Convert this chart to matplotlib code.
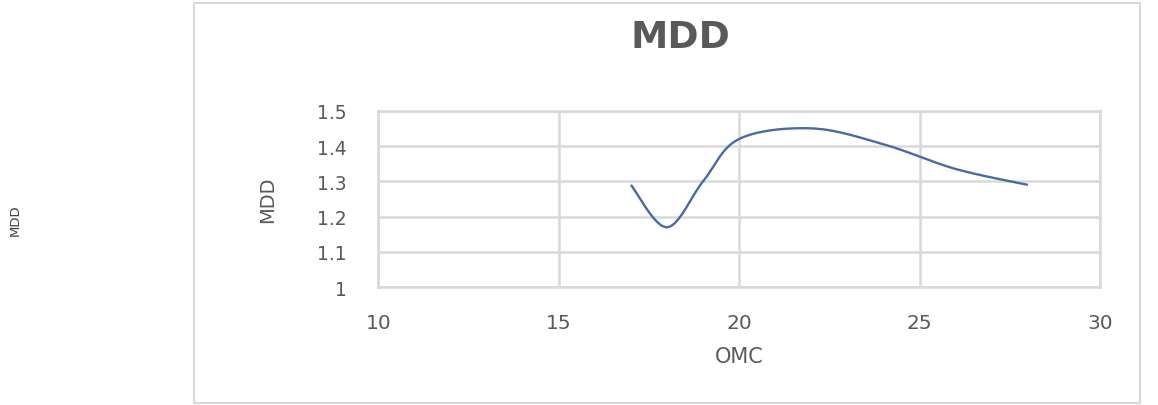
import numpy as np
import matplotlib
matplotlib.use("Agg")
import matplotlib.pyplot as plt
from matplotlib.patches import Rectangle

# Data
omc = [17, 18, 19, 20, 22, 24, 26, 28]
mdd = [1.29, 1.17, 1.30, 1.42, 1.45, 1.405, 1.335, 1.29]
x_ticks = [10, 15, 20, 25, 30]
y_ticks = [1, 1.1, 1.2, 1.3, 1.4, 1.5]
y_tick_labels = ["1", "1.1", "1.2", "1.3", "1.4", "1.5"]
title = "MDD"
x_label = "OMC"
y_label = "MDD"
outer_label = "MDD"


def smooth(xs, ys, n=60):
    """Excel-like smoothed line: Catmull-Rom converted to cubic Bezier."""
    pts = np.column_stack([xs, ys]).astype(float)
    out = []
    for i in range(len(pts) - 1):
        p0 = pts[i - 1] if i > 0 else pts[i]
        p1 = pts[i]
        p2 = pts[i + 1]
        p3 = pts[i + 2] if i + 2 < len(pts) else pts[i + 1]
        c1 = p1 + (p2 - p0) / 6.0
        c2 = p2 - (p3 - p1) / 6.0
        t = np.linspace(0, 1, n)[:, None]
        seg = ((1 - t) ** 3) * p1 + 3 * ((1 - t) ** 2) * t * c1 + 3 * (1 - t) * t ** 2 * c2 + t ** 3 * p2
        out.append(seg if i == 0 else seg[1:])
    arr = np.vstack(out)
    return arr[:, 0], arr[:, 1]


plt.rcParams['font.family'] = ['DejaVu Sans']
gray = '#595959'
grid_c = '#d9d9d9'

fig = plt.figure(figsize=(11.58, 4.06), dpi=100)
fig.patch.set_facecolor('white')

# Chart-area border
fig.patches.append(Rectangle((194 / 1158, 2 / 406), (1140 - 194) / 1158, (402 - 2) / 406,
                             transform=fig.transFigure, fill=False,
                             edgecolor=grid_c, linewidth=1.5, zorder=0))

ax = fig.add_axes([378.3 / 1158, (406 - 288.3) / 406, (1100 - 378.3) / 1158, (288.3 - 111.7) / 406])
sx, sy = smooth(omc, mdd)
ax.plot(sx, sy, color='#4a6aa3', linewidth=1.7, solid_capstyle='butt', zorder=3)

ax.set_xlim(10, 30)
ax.set_ylim(1, 1.5)
ax.set_xticks(x_ticks)
ax.set_yticks(y_ticks)
ax.set_yticklabels(y_tick_labels)
ax.grid(True, color=grid_c, linewidth=1.8)
ax.set_axisbelow(True)
for s in ax.spines.values():
    s.set_color(grid_c)
    s.set_linewidth(1.8)
ax.tick_params(axis='both', length=0, colors=gray)
ax.tick_params(axis='x', pad=18.5, labelsize=14.5)
ax.tick_params(axis='y', pad=22.5, labelsize=13.5)

ax.set_xlabel(x_label, color=gray, fontsize=15, va='center')
ax.xaxis.set_label_coords(0.5, (288.3 - 357.5) / 176.6)
ax.set_ylabel(y_label, color=gray, fontsize=14, va='center')
ax.yaxis.set_label_coords((268 - 378.3) / 721.7, 0.5)

fig.text(680 / 1158, 1 - 38.5 / 406, title, ha='center', va='center',
         fontsize=27, fontweight='bold', color=gray)
fig.text(15 / 1158, 1 - 220 / 406, outer_label, ha='center', va='center',
         rotation=90, fontsize=9.5, color='#404040')

fig.savefig('out.png', dpi=100, facecolor='white')
